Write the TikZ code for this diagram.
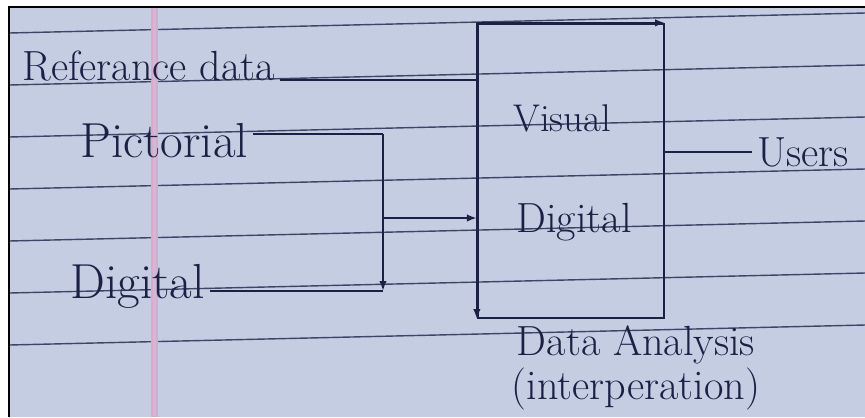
\documentclass[tikz,border=0pt]{standalone}
\usepackage{xcolor}
\usepackage{tikz}
\usetikzlibrary{arrows.meta,positioning,calc}
\definecolor{paperblue}{RGB}{196,205,226}
\definecolor{ruleink}{RGB}{62,70,104}
\definecolor{penink}{RGB}{28,32,68}
\definecolor{marginpink}{RGB}{214,172,204}
\tikzset{
  notetext/.style={text=penink, inner sep=0.1cm, font=\fontsize{24}{25}\selectfont},
  bignotetext/.style={notetext, font=\fontsize{28}{30}\selectfont},
  notebox/.style={draw=penink, line width=1.3pt, minimum width=3.72cm, minimum height=5.88cm, inner sep=0pt},
  noteline/.style={draw=penink, line width=1.3pt},
  notearrow/.style={-{Latex[length=2mm]}, draw=penink, line width=1.3pt},
  ruleline/.style={draw=ruleink, line width=0.8pt}
}

\begin{document}
\begin{tikzpicture}[x=0.02cm, y=-0.02cm]
\useasboundingbox (0,0) rectangle (865,417);
% ruled page
\fill[white] (0,0) rectangle (865,417);
\fill[paperblue] (9,7) rectangle (865,417);
\foreach \k in {0,...,6}
  \draw[ruleline] (9,{33+52*\k}) -- (865,{13+52*\k});
\fill[marginpink!60!paperblue] (151,7) rectangle (158,417);
\draw[marginpink, line width=0.05cm] (152,7) -- (152,417);
\draw[marginpink, line width=0.05cm] (157,7) -- (157,417);
\draw[black, line width=1.2pt] (9,417) -- (9,7) -- (865,7);

% inputs
\node[notetext, anchor=base west] (refdata) at (17,80) {Referance data};
\node[bignotetext, anchor=base west] (pictorial) at (75,157) {Pictorial};
\node[bignotetext, anchor=base west] (digleft) at (65,298) {Digital};

% analysis box
\node[notebox] (analysis) at (571,171) {};
\node[notetext, font=\fontsize{22}{24}\selectfont] (visual) at (562,118) {Visual};
\node[notetext] (digright) at (574,222) {Digital};
\node[notetext, align=center, anchor=north] (analysislabel) at (636,320) {Data Analysis\\(interperation)};
\node[notetext, anchor=west] (users) at (752,152) {Users};
\draw[notearrow] (analysis.north west) -- (analysis.north east);
\draw[notearrow] (analysis.north west) -- (analysis.south west);

% connectors
\coordinate (pjoin) at (383,134);
\coordinate (djoin) at (383,291);
\coordinate (mjoin) at (383,218);
\draw[noteline] (refdata.base east) -- (refdata.base east -| analysis.west);
\draw[noteline] (pictorial.east |- pjoin) -- (pjoin);
\draw[notearrow] (pjoin) -- (djoin);
\draw[noteline] (digleft.east |- djoin) -- (djoin);
\draw[notearrow] (mjoin) -- (mjoin -| analysis.west);
\draw[noteline] (analysis.east |- users.west) -- (users.west);
\end{tikzpicture}
\end{document}
